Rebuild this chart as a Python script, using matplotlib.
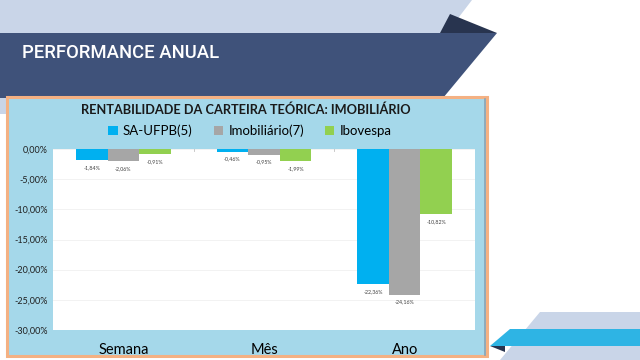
import matplotlib
matplotlib.use("Agg")
import matplotlib.pyplot as plt
import numpy as np
from matplotlib.patches import Polygon, Rectangle

categories = ["Semana", "Mês", "Ano"]
series_names = ["SA-UFPB(5)", "Imobiliário(7)", "Ibovespa"]
sa_ufpb = [-1.84, -0.46, -22.36]
imobiliario = [-2.06, -0.95, -24.16]
ibovespa = [-0.91, -1.99, -10.82]
yticks = [0, -5, -10, -15, -20, -25, -30]

COLORS = ["#00b0f0", "#a6a6a6", "#92d050"]


def pct(v):
    return ("%.2f%%" % v).replace(".", ",")


fig = plt.figure(figsize=(6.4, 3.6), dpi=100)
fig.patch.set_facecolor("white")

# slide decoration, drawn in pixel coords
bg = fig.add_axes([0, 0, 1, 1])
bg.set_xlim(0, 640)
bg.set_ylim(360, 0)
bg.axis("off")
bg.add_patch(Polygon([(0, 0), (472, 0), (446, 34), (0, 34)], color="#c9d5e8", lw=0))
bg.add_patch(Polygon([(0, 98), (450, 98), (388, 114), (0, 114)], color="#c9d5e8", lw=0))
bg.add_patch(Polygon([(450, 14), (497, 33), (440, 33)], color="#28344f", lw=0))
bg.add_patch(Polygon([(0, 33), (497, 33), (443, 98), (0, 98)], color="#3f527a", lw=0))
bg.text(22, 53, "PERFORMANCE ANUAL", color="white", fontsize=13.3,
        family="Roboto", fontweight="medium", va="center", ha="left")
# bottom-right decoration
bg.add_patch(Polygon([(540, 312), (640, 312), (640, 360), (500, 360)], color="#c9d5e8", lw=0))
bg.add_patch(Polygon([(510, 329), (640, 329), (640, 346), (490, 346)], color="#2eb4e4", lw=0))
bg.add_patch(Polygon([(490, 346), (505, 346), (505, 352)], color="#28344f", lw=0))
# chart frame
bg.add_patch(Rectangle((7, 97), 480, 259, facecolor="#a5d8ea", edgecolor="#f4b183", lw=2.2))
bg.plot([485, 485], [99, 355], color="#8aa3b3", lw=1.2)

ax = fig.add_axes([53 / 640, 1 - 330 / 360, 422 / 640, 181 / 360])
ax.set_facecolor("white")
x = np.arange(len(categories))
w = 0.225
for i, (vals, name) in enumerate(zip([sa_ufpb, imobiliario, ibovespa], series_names)):
    xs = x + (i - 1) * w
    ax.bar(xs, vals, width=w, color=COLORS[i], label=name, zorder=3)
    for xi, v in zip(xs, vals):
        ax.text(xi, v - 0.8, pct(v), ha="center", va="top", fontsize=3.8,
                color="#404040", family="Lato")

ax.set_xlim(-0.5, 2.5)
ax.set_ylim(-30, 0)
ax.set_yticks(yticks)
ax.set_yticklabels([pct(t) for t in yticks], fontsize=6.5, family="Lato", color="#202020")
ax.yaxis.grid(True, color="#f0f0f0", lw=0.6, zorder=0)
ax.set_xticks(x)
ax.set_xticklabels(categories, fontsize=10.5, family="Lato")
ax.tick_params(axis="x", length=0, pad=9)
ax.tick_params(axis="y", length=0, pad=4)
for t in [0.5, 1.5]:
    ax.plot([t, t], [0, -0.35], color="#c0c0c0", lw=0.6, zorder=4)
for s in ax.spines.values():
    s.set_visible(False)

fig.text(246 / 640, 1 - 110 / 360, "RENTABILIDADE DA CARTEIRA TEÓRICA: IMOBILIÁRIO",
         ha="center", va="center", fontsize=9.2, fontweight="bold", family="Lato", color="#1a1a1a")
fig.legend(loc="center", bbox_to_anchor=(250 / 640, 1 - 131 / 360), ncol=3, frameon=False,
           prop={"family": "Lato", "size": 9.5}, handlelength=0.7, handleheight=0.7,
           handletextpad=0.4, columnspacing=1.6)

fig.savefig("out.png", dpi=100)
